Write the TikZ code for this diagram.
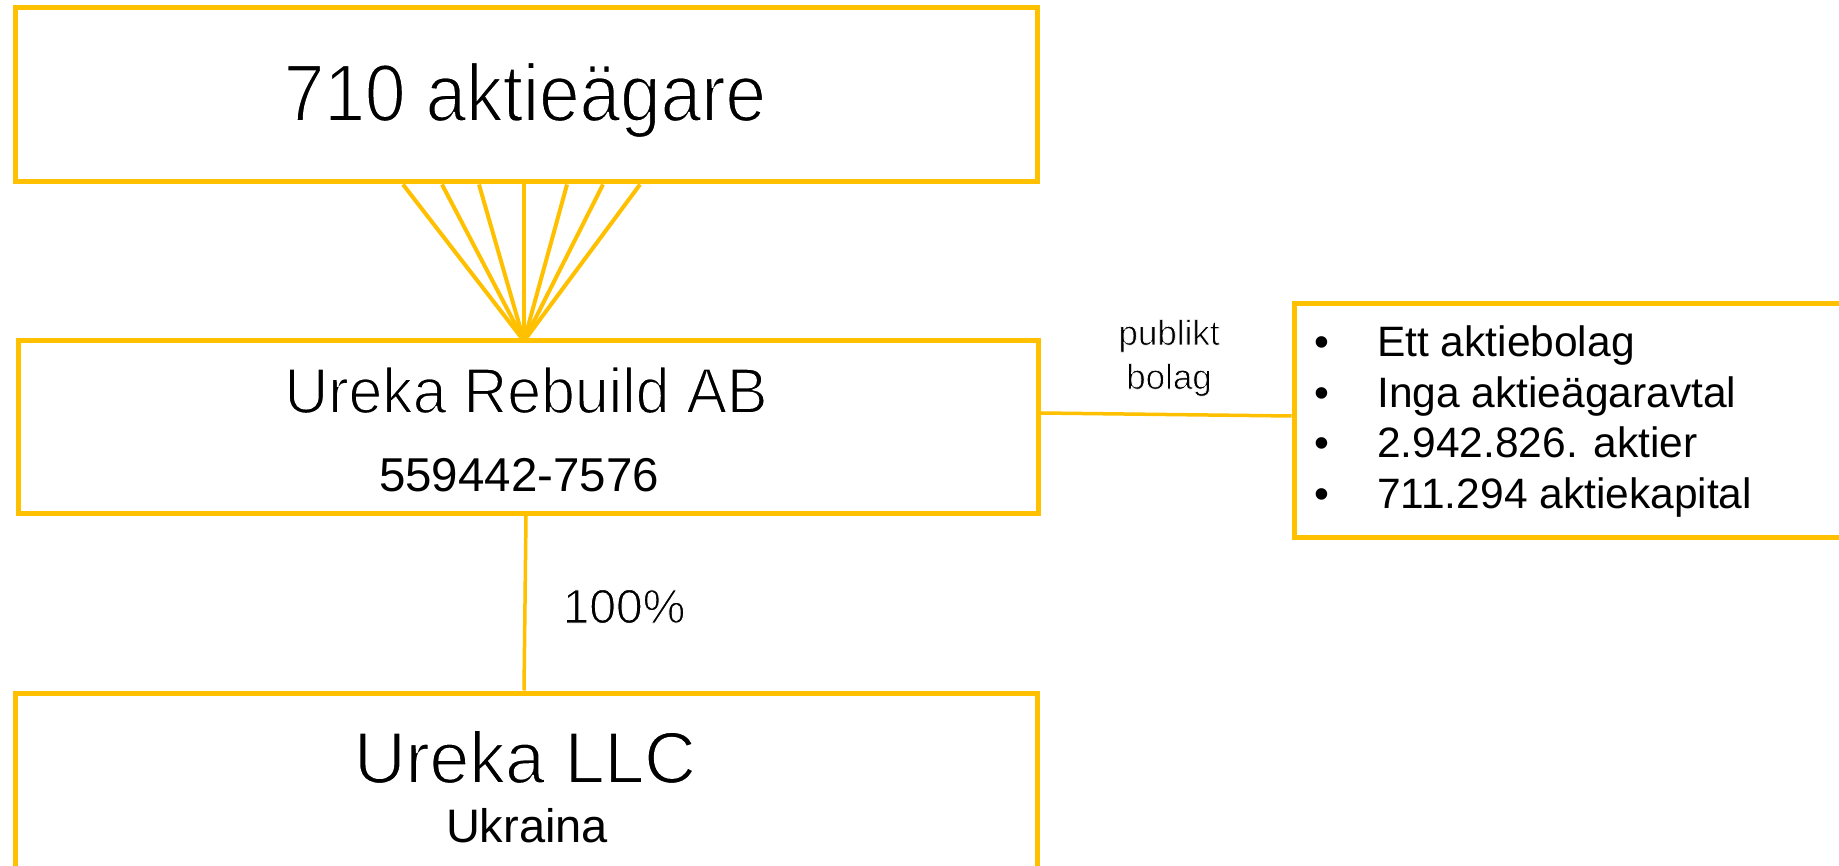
\documentclass[tikz,border=0pt]{standalone}
\usepackage{fontspec}
\setmainfont{Liberation Sans}
\definecolor{gold}{RGB}{255,192,0}
\tikzset{
  box/.style={draw=gold, line width=5pt, rectangle, inner sep=0pt},
  conn/.style={draw=gold, line width=3.5pt},
  fanline/.style={draw=gold, line width=4pt},
  txt/.style={anchor=base, inner sep=0pt, text=black},
  ltxt/.style={anchor=base west, inner sep=0pt, text=black},
}
\newcommand{\fsz}[1]{\fontsize{#1pt}{#1pt}\selectfont}
% lighter strokes: fill the text, then stroke its outline in white
\newcommand{\thinner}[2]{\special{pdf:literal direct 1 1 1 RG #1 w 2 Tr}#2\special{pdf:literal direct 0 Tr 0 0 0 RG 1 w}}
\newcommand{\plain}[1]{\special{pdf:literal direct 0 Tr 1 w}#1}
\begin{document}
\begin{tikzpicture}[x=1pt,y=-1pt]
\clip (0,0) rectangle (1839,866);
\fill[white] (0,0) rectangle (1839,866);
% boxes
\node[box, minimum width=1022pt, minimum height=174pt] (top) at (526,95) {};
\node[box, minimum width=1020pt, minimum height=172pt] (mid) at (528,427) {};
\node[box, minimum width=1022pt, minimum height=207pt] (bot) at (526,796.5) {};
\node[box, minimum width=606pt, minimum height=233pt] (info) at (1597,420.5) {};
% fan
\coordinate (apex) at (524,341);
\foreach \dx in {-123,-84,-47,-2,41,77,114}
  \draw[fanline] ([xshift=\dx pt]top.south) -- (apex);
% connectors
\draw[conn] ([xshift=-2pt]mid.south) -- ([xshift=-2pt]bot.north);
\draw[conn] ([yshift=14pt]mid.east) -- ([yshift=4.5pt]info.west);
% texts
\node[txt] (t1) at (525,121) {\fsz{81}\thinner{1.8}{\scalebox{0.90}[1]{710 aktieägare}}};
\node[txt] (t2) at (526,413) {\fsz{64}\thinner{1.5}{\scalebox{0.95}[1]{Ureka Rebuild AB}}};
\node[txt] (t3) at (519,491) {\fsz{47.5}\plain{559442-7576}};
\node[txt] (t4) at (525,783) {\fsz{73}\thinner{1.6}{\scalebox{0.98}[1]{Ureka LLC}}};
\node[txt] (t5) at (527,842) {\fsz{47}\plain{Ukraina}};
\node[txt] (t6) at (624,623) {\fsz{48}\thinner{1.0}{100\%}};
\node[txt] (t7) at (1169,345) {\fsz{35}\thinner{0.7}{publikt}};
\node[txt] (t8) at (1169,389) {\fsz{35}\thinner{0.7}{bolag}};
% bullets
\foreach \y/\t [count=\i] in {357/Ett aktiebolag, 407/Inga aktieägaravtal, 457/2.942.826. aktier, 508/711.294 aktiekapital}{
  \node[txt] (b\i) at (1322,\y) {\fsz{42.5}\plain{•}};
  \node[ltxt] (l\i) at (1377,\y) {\fsz{42.5}\plain{\t}};
}
\end{tikzpicture}
\end{document}
